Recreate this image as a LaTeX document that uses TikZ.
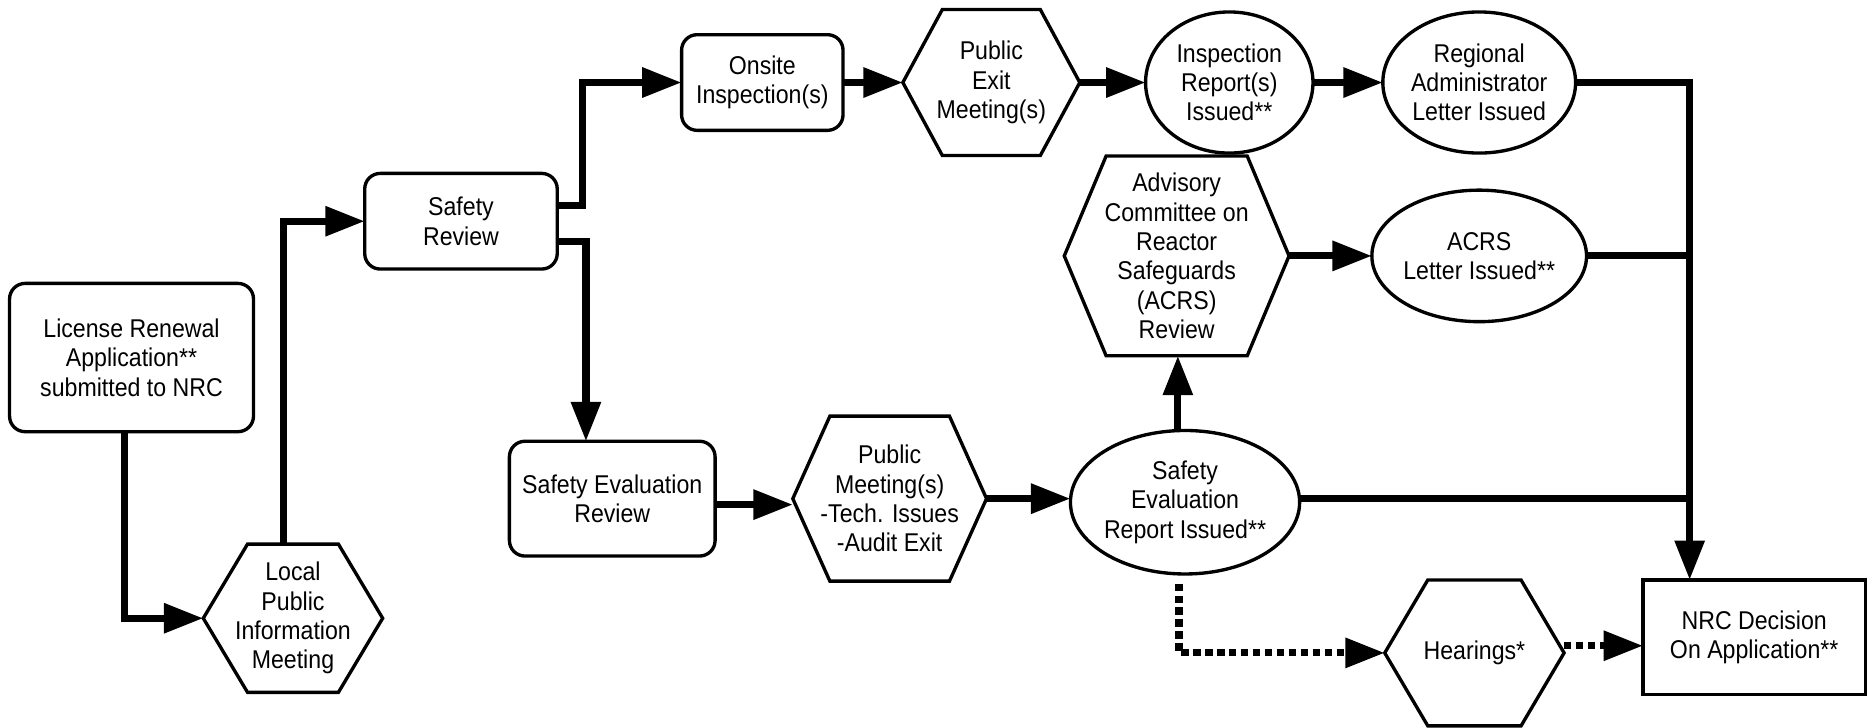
\documentclass[tikz,border=0pt]{standalone}
\usepackage{fontspec}
\setmainfont[FakeStretch=0.9]{Liberation Sans}
\usetikzlibrary{shapes.geometric, arrows.meta, calc}
\tikzset{
  shapeline/.style={line width=2.8pt, line join=miter},
  txt/.style={font=\fontsize{21.5}{24.5}\selectfont, align=center, inner sep=0pt, outer sep=0pt},
  rbox/.style={txt, shapeline, draw, rounded corners=13pt},
  sbox/.style={txt, shapeline, draw},
  ebox/.style={txt, shapeline, draw, ellipse},
  conn/.style={line width=6pt, line join=miter, -{Triangle[length=33pt,width=24pt]}},
  plainconn/.style={line width=6pt},
  dotconn/.style={line width=6pt, dash pattern=on 6pt off 4pt, -{Triangle[length=33pt,width=24pt]}},
}
\newcommand\hexnode[7]{%
  \node[txt, minimum width=#4pt, minimum height=#5pt] (#1) at (#2,#3) {#7};
  \draw[shapeline] ([xshift=#6pt]#1.north west) -- ([xshift=-#6pt]#1.north east) -- (#1.east)
    -- ([xshift=-#6pt]#1.south east) -- ([xshift=#6pt]#1.south west) -- (#1.west) -- cycle;
}
\begin{document}
\begin{tikzpicture}[x=1pt,y=-1pt]
\useasboundingbox (0,0) rectangle (1568,608);
% nodes
\node[rbox, minimum width=204pt, minimum height=124pt] (lic) at (110,299) {License Renewal\\Application**\\submitted to NRC};
\hexnode{loc}{245}{517}{150}{124}{37}{Local\\Public\\Information\\Meeting}
\node[rbox, minimum width=161pt, minimum height=80pt] (sr) at (385.5,185) {Safety\\Review};
\node[rbox, minimum width=135pt, minimum height=80pt] (ons) at (637.5,69) {Onsite\\Inspection(s)};
\hexnode{pex}{829}{69}{148}{122}{33}{Public\\Exit\\Meeting(s)}
\node[ebox, minimum width=140pt, minimum height=118pt] (insp) at (1028,69) {Inspection\\Report(s)\\Issued**};
\node[ebox, minimum width=140pt, minimum height=118pt] (reg) at (1237,69) {Regional\\Administrator\\Letter Issued};
\hexnode{adv}{984}{214}{188}{167}{35}{Advisory\\Committee on\\Reactor\\Safeguards\\(ACRS)\\Review}
\node[ebox, minimum width=140pt, minimum height=110pt] (acrs) at (1237,214) {ACRS\\Letter Issued**};
\node[rbox, minimum width=172pt, minimum height=96pt] (serev) at (512,417) {Safety Evaluation\\Review};
\hexnode{pm}{744}{417}{162}{138}{31}{Public\\Meeting(s)\\-Tech. Issues\\-Audit Exit}
\node[ebox, minimum width=173pt, minimum height=120pt] (ser) at (991,420) {Safety\\Evaluation\\Report Issued**};
\hexnode{hear}{1233}{546}{150}{122}{36}{Hearings*}
\node[sbox, minimum width=186pt, minimum height=96pt] (nrc) at (1467,533) {NRC Decision\\On Application**};
\coordinate (bus) at (1413,69);
% connectors
\draw[conn] ([xshift=-6pt]lic.south) |- (loc.west);
\draw[conn] ([xshift=-8pt]loc.north) |- (sr.west);
\draw[conn] ([yshift=13pt]sr.east) -- ++(21,0) |- (ons.west);
\draw[conn] ([yshift=-17pt]sr.east) -| ([xshift=-22pt]serev.north);
\draw[conn] (ons.east) -- (pex.west);
\draw[conn] (pex.east) -- (insp.west);
\draw[conn] (insp.east) -- (reg.west);
\draw[conn] (reg.east) -- (reg.east -| bus) -- (bus |- nrc.north);
\draw[conn] (adv.east) -- (acrs.west);
\draw[plainconn] (acrs.east) -- (acrs.east -| bus);
\draw[conn] ([yshift=-5pt]serev.east) -- ([yshift=-5pt]serev.east -| pm.west);
\draw[conn] (pm.east) -- (pm.east -| ser.west);
\draw[plainconn] ([yshift=3pt]ser.east) -- ([yshift=3pt]ser.east -| bus);
\draw[conn] ([xshift=-6pt]ser.north) -- ([xshift=-6pt]ser.north |- adv.south);
\draw[dotconn] ([xshift=-5pt,yshift=-8pt]ser.south) |- (hear.west);
\draw[dotconn] ([yshift=6pt]hear.east) -- ([yshift=6pt]hear.east -| nrc.west);
\end{tikzpicture}
\end{document}
